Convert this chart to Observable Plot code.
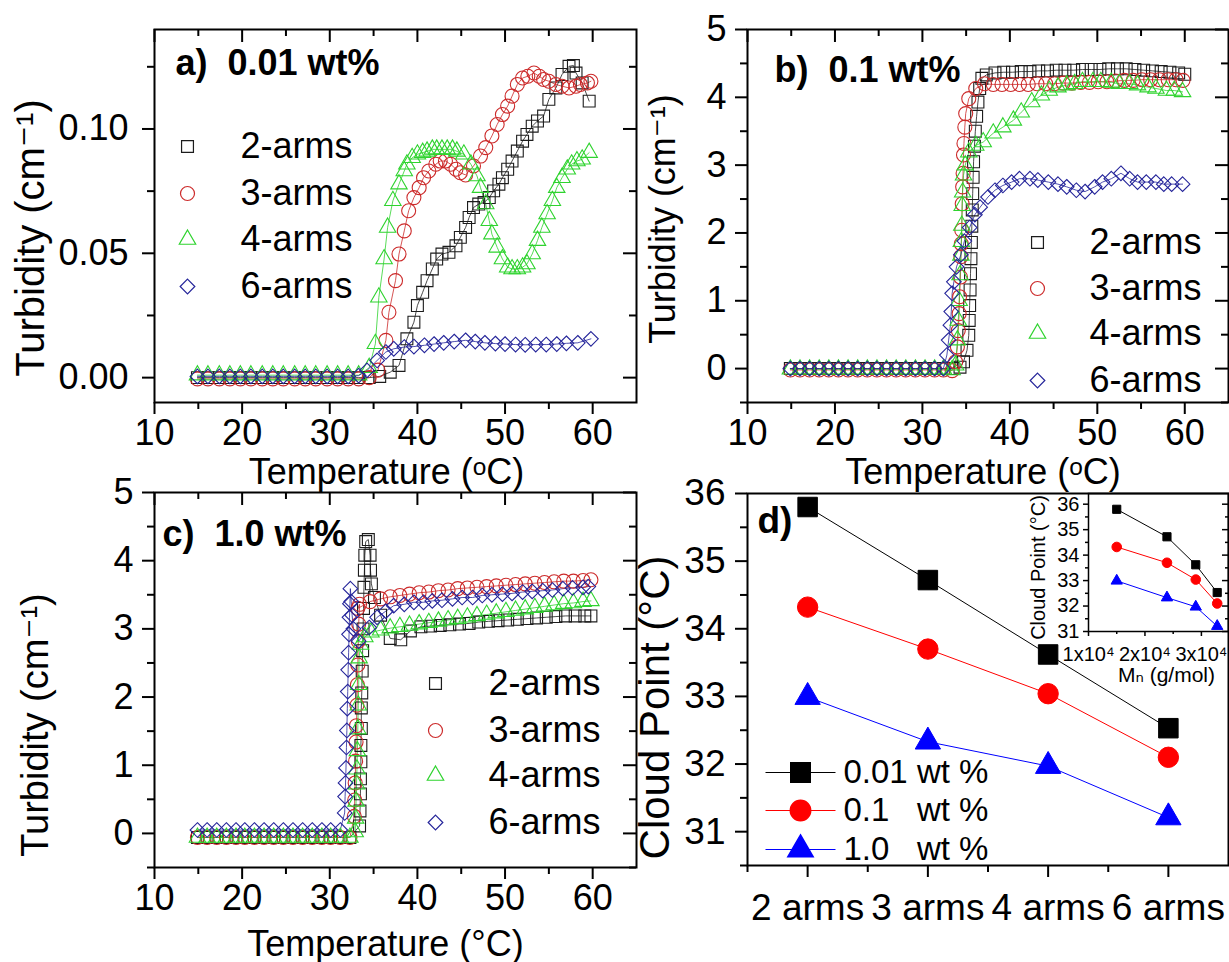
<!DOCTYPE html>
<html><head><meta charset="utf-8">
<script src="https://cdn.jsdelivr.net/npm/d3@7"></script>
<script src="https://cdn.jsdelivr.net/npm/@observablehq/plot@0.6"></script>
<style>
html,body{margin:0;padding:0;background:#fff;overflow:hidden}
#chart{position:relative;width:1229px;height:962px;background:#fff}
#chart svg{position:absolute;left:0;top:0}
</style></head><body><div id="chart"></div>
<script>
// ---------------- DATA ----------------
const seriesNames = ["2-arms", "3-arms", "4-arms", "6-arms"];
// panel a) 0.01 wt%  [T (°C), turbidity (cm-1)]
const a2 = [[14.9,0],[16.1,0],[17.4,0],[18.6,0],[19.8,0],[21.0,0],[22.3,0],[23.5,0],[24.7,0],[26.0,0],[27.2,0],[28.4,0],[29.7,0],[30.9,0],[32.1,0],[33.3,0],[34.5,0],[35.7,0.0005],[36.9,0.0022],[37.9,0.0049],[38.8,0.0156],[39.6,0.0223],[40.0,0.029],[40.6,0.0343],[41.1,0.039],[41.7,0.0437],[42.2,0.0477],[42.8,0.0497],[43.6,0.0504],[44.4,0.053],[44.9,0.0564],[45.5,0.0604],[45.9,0.0644],[46.4,0.0684],[47.0,0.0698],[47.6,0.0704],[48.2,0.0724],[48.7,0.0751],[49.3,0.0778],[49.7,0.0804],[50.3,0.0838],[50.8,0.0871],[51.4,0.0911],[52.0,0.0951],[52.5,0.0978],[53.1,0.1011],[53.7,0.1032],[54.4,0.1052],[55.0,0.1119],[55.8,0.1165],[56.5,0.1219],[57.3,0.1252],[57.8,0.1255],[58.1,0.1225],[58.8,0.1185],[59.6,0.1112]];
const a3 = [[14.9,-0.0005],[16.1,-0.0005],[17.4,-0.0005],[18.6,-0.0005],[19.8,-0.0005],[21.0,-0.0005],[22.3,-0.0005],[23.5,-0.0005],[24.7,-0.0005],[26.0,-0.0005],[27.2,-0.0005],[28.4,-0.0005],[29.7,-0.0005],[30.9,-0.0005],[32.1,-0.0005],[33.3,-0.0005],[34.5,0],[35.5,0.003],[36.4,0.015],[36.75,0.0263],[37.5,0.039],[37.9,0.0497],[38.5,0.059],[39.0,0.0671],[39.6,0.0724],[40.2,0.0764],[40.7,0.0804],[41.3,0.0831],[42.1,0.0858],[42.6,0.0871],[43.2,0.0871],[43.8,0.0858],[44.4,0.0838],[44.9,0.0824],[45.5,0.0815],[46.4,0.0851],[47.2,0.0891],[47.8,0.0925],[48.5,0.0972],[49.1,0.1018],[49.7,0.1058],[50.3,0.1092],[50.8,0.1132],[51.4,0.1179],[52.0,0.1205],[52.6,0.1212],[53.3,0.1225],[53.9,0.1212],[54.4,0.1199],[55.0,0.1192],[55.8,0.1179],[56.5,0.1172],[57.3,0.1165],[58.1,0.1172],[58.6,0.1179],[59.4,0.1185],[59.8,0.1192]];
const a4 = [[14.9,0.001],[16.1,0.001],[17.4,0.001],[18.6,0.001],[19.8,0.001],[21.0,0.001],[22.3,0.001],[23.5,0.001],[24.7,0.001],[26.0,0.001],[27.2,0.001],[28.4,0.001],[29.7,0.001],[30.9,0.001],[32.1,0.001],[33.3,0.001],[34.5,0.004],[35.2,0.0136],[35.6,0.0323],[36.2,0.0477],[36.6,0.0604],[37.2,0.0711],[37.9,0.0778],[38.5,0.0831],[38.8,0.0858],[39.4,0.0884],[40.0,0.0898],[40.6,0.0905],[41.1,0.091],[41.7,0.0918],[42.2,0.0918],[42.8,0.0918],[43.4,0.0918],[44.0,0.0918],[44.5,0.091],[45.3,0.0898],[46.1,0.0858],[46.8,0.0811],[47.2,0.0764],[47.8,0.0698],[48.2,0.0631],[48.5,0.0577],[49.1,0.0524],[49.7,0.0477],[50.3,0.0444],[50.8,0.0437],[51.4,0.0437],[52.0,0.0444],[52.5,0.0457],[53.1,0.0497],[53.7,0.0551],[54.2,0.0604],[54.8,0.0658],[55.4,0.0711],[55.9,0.0764],[56.5,0.0804],[57.1,0.0838],[57.6,0.0858],[58.2,0.0871],[58.8,0.0878],[59.6,0.0905]];
const a6 = [[14.9,0.0005],[16.1,0.0005],[17.4,0.0005],[18.6,0.0005],[19.8,0.0005],[21.0,0.0005],[22.3,0.0005],[23.5,0.0005],[24.7,0.0005],[26.0,0.0005],[27.2,0.0005],[28.4,0.0005],[29.7,0.0005],[30.9,0.0005],[32.1,0.0005],[33.3,0.0008],[34.25,0.0029],[35.4,0.0069],[36.4,0.0103],[37.3,0.0116],[38.5,0.0123],[39.6,0.0125],[40.8,0.013],[41.9,0.0135],[43.0,0.014],[44.2,0.0145],[45.5,0.015],[46.6,0.0145],[47.7,0.014],[48.9,0.0137],[50.0,0.0135],[51.2,0.0133],[52.3,0.0132],[53.5,0.0133],[54.7,0.0133],[55.9,0.0135],[57.0,0.0138],[58.3,0.014],[59.8,0.0156]];
// panel b) 0.1 wt%
const b2 = [[14.9,0],[16.0,0],[17.1,0],[18.2,0],[19.3,0],[20.4,0],[21.5,0],[22.6,0],[23.7,0],[24.8,0],[25.9,0],[27.0,0],[28.1,0],[29.2,0],[30.3,0],[31.4,0],[32.4,0],[33.5,0],[34.3,0.02],[34.7,0.1],[35.1,0.27],[35.3,0.49],[35.35,0.71],[35.4,0.93],[35.45,1.16],[35.5,1.4],[35.55,1.62],[35.6,1.86],[35.65,2.1],[35.7,2.34],[35.75,2.58],[35.8,2.82],[35.85,3.05],[35.95,3.28],[36.05,3.5],[36.2,3.72],[36.35,3.93],[36.55,4.13],[36.8,4.28],[37.3,4.33],[38.3,4.36],[39.3,4.37],[40.3,4.37],[41.3,4.38],[42.3,4.38],[43.3,4.39],[44.3,4.39],[45.3,4.4],[46.3,4.4],[47.3,4.4],[48.3,4.41],[49.3,4.41],[50.3,4.41],[51.3,4.42],[52.3,4.42],[53.3,4.42],[54.3,4.41],[55.3,4.4],[56.3,4.39],[57.3,4.38],[58.3,4.37],[59.3,4.36],[60.0,4.34]];
const b3 = [[14.9,-0.02],[16.0,-0.02],[17.1,-0.02],[18.2,-0.02],[19.3,-0.02],[20.4,-0.02],[21.5,-0.02],[22.6,-0.02],[23.7,-0.02],[24.8,-0.02],[25.9,-0.02],[27.0,-0.02],[28.1,-0.02],[29.2,-0.02],[30.3,-0.02],[31.4,-0.02],[32.4,-0.02],[33.4,-0.03],[33.8,0.1],[34.0,0.32],[34.1,0.56],[34.2,0.81],[34.25,1.06],[34.35,1.35],[34.4,1.65],[34.45,1.84],[34.5,2.04],[34.55,2.43],[34.6,2.68],[34.65,2.88],[34.7,3.15],[34.75,3.32],[34.85,3.56],[34.95,3.76],[35.3,3.98],[36.1,4.13],[37.1,4.2],[38.1,4.19],[39.1,4.19],[40.1,4.19],[41.1,4.19],[42.1,4.19],[43.1,4.2],[44.1,4.2],[45.1,4.2],[46.1,4.21],[47.1,4.21],[48.1,4.22],[49.1,4.22],[50.1,4.23],[51.1,4.23],[52.1,4.24],[53.1,4.25],[54.1,4.25],[55.1,4.26],[56.1,4.26],[57.1,4.26],[58.1,4.26],[59.0,4.26],[59.8,4.25]];
const b4 = [[14.9,-0.01],[16.0,-0.01],[17.1,-0.01],[18.2,-0.01],[19.3,-0.01],[20.4,-0.01],[21.5,-0.01],[22.6,-0.01],[23.7,-0.01],[24.8,-0.01],[25.9,-0.01],[27.0,-0.01],[28.1,-0.01],[29.2,-0.01],[30.3,-0.01],[31.4,-0.01],[32.4,-0.01],[33.4,-0.02],[33.8,0.05],[34.0,0.42],[34.1,0.71],[34.2,1.0],[34.3,1.38],[34.4,1.67],[34.45,1.87],[34.5,2.11],[34.55,2.4],[34.6,2.6],[34.7,2.85],[34.9,3.0],[35.3,3.19],[36.1,3.29],[36.95,3.34],[38.1,3.47],[39.2,3.56],[40.4,3.66],[41.3,3.78],[42.5,3.93],[43.6,4.03],[44.5,4.1],[45.5,4.15],[46.5,4.18],[47.4,4.2],[48.3,4.23],[49.5,4.23],[50.4,4.23],[51.6,4.22],[52.5,4.2],[53.7,4.2],[54.6,4.18],[55.8,4.15],[56.7,4.13],[57.9,4.1],[58.8,4.1],[59.75,4.08]];
const b6 = [[14.9,0],[16.0,0],[17.1,0],[18.2,0],[19.3,0],[20.4,0],[21.5,0],[22.6,0],[23.7,0],[24.8,0],[25.9,0],[27.0,0],[28.1,0],[29.2,0],[30.3,0],[31.4,0],[32.4,0],[32.8,0.2],[33.0,0.42],[33.2,0.64],[33.3,0.84],[33.4,1.11],[33.6,1.28],[33.9,1.5],[34.4,1.68],[34.8,1.88],[35.4,2.08],[36.0,2.27],[36.6,2.38],[37.5,2.53],[38.3,2.63],[39.2,2.7],[40.2,2.75],[41.1,2.8],[42.3,2.8],[43.2,2.78],[44.4,2.75],[45.5,2.72],[46.5,2.68],[47.6,2.63],[48.6,2.61],[49.7,2.68],[50.6,2.75],[51.6,2.8],[52.7,2.88],[53.7,2.8],[54.6,2.75],[55.6,2.75],[56.7,2.75],[57.6,2.72],[58.5,2.72],[59.75,2.72]];
// panel c) 1.0 wt%
const c2 = [[14.9,-0.06],[16.0,-0.06],[17.1,-0.06],[18.2,-0.06],[19.3,-0.06],[20.3,-0.06],[21.4,-0.06],[22.5,-0.06],[23.6,-0.06],[24.7,-0.06],[25.8,-0.06],[26.9,-0.06],[28.0,-0.06],[29.1,-0.06],[30.1,-0.06],[31.2,-0.06],[32.3,-0.06],[33.4,0.11],[33.45,0.33],[33.5,0.58],[33.5,0.8],[33.55,1.05],[33.55,1.29],[33.6,1.54],[33.6,1.84],[33.65,2.06],[33.7,2.38],[33.75,2.68],[33.8,3.0],[33.85,3.3],[33.9,3.61],[33.95,3.86],[34.0,4.08],[34.1,4.28],[34.4,4.31],[34.6,4.08],[34.65,3.86],[34.75,3.66],[35.1,3.46],[35.8,3.2],[36.9,2.86],[38.1,2.84],[39.2,2.97],[40.4,3.03],[41.5,3.04],[42.6,3.05],[43.7,3.06],[44.8,3.07],[45.9,3.08],[47.0,3.1],[48.1,3.11],[49.2,3.12],[50.3,3.13],[51.4,3.14],[52.5,3.15],[53.6,3.16],[54.7,3.17],[55.8,3.18],[56.9,3.19],[58.0,3.19],[59.1,3.19],[59.8,3.19]];
const c3 = [[14.9,-0.06],[16.0,-0.06],[17.1,-0.06],[18.2,-0.06],[19.3,-0.06],[20.3,-0.06],[21.4,-0.06],[22.5,-0.06],[23.6,-0.06],[24.7,-0.06],[25.8,-0.06],[26.9,-0.06],[28.0,-0.06],[29.1,-0.06],[30.1,-0.06],[31.2,-0.06],[32.3,-0.06],[32.8,0.25],[32.85,0.49],[32.9,0.74],[32.95,1.06],[33.0,1.34],[33.05,1.58],[33.1,1.88],[33.15,2.18],[33.2,2.47],[33.25,2.82],[33.3,3.07],[33.4,3.36],[33.2,3.3],[34.6,3.4],[35.8,3.44],[36.9,3.47],[38.0,3.49],[39.1,3.51],[40.2,3.53],[41.3,3.54],[42.4,3.56],[43.5,3.57],[44.6,3.59],[45.7,3.6],[46.8,3.61],[47.9,3.62],[49.0,3.63],[50.1,3.64],[51.2,3.65],[52.3,3.66],[53.4,3.67],[54.5,3.68],[55.6,3.69],[56.7,3.7],[57.8,3.7],[58.9,3.71],[59.8,3.72]];
const c4 = [[14.9,-0.06],[16.0,-0.06],[17.1,-0.06],[18.2,-0.06],[19.3,-0.06],[20.3,-0.06],[21.4,-0.06],[22.5,-0.06],[23.6,-0.06],[24.7,-0.06],[25.8,-0.06],[26.9,-0.06],[28.0,-0.06],[29.1,-0.06],[30.1,-0.06],[31.2,-0.06],[32.3,-0.06],[32.9,0.02],[32.95,0.22],[33.0,0.47],[33.05,0.72],[33.1,0.94],[33.15,1.21],[33.2,1.53],[33.25,1.88],[33.3,2.18],[33.35,2.57],[33.5,2.77],[34.0,2.88],[34.7,2.95],[35.8,2.98],[36.9,3.01],[38.0,3.03],[39.1,3.05],[40.2,3.07],[41.3,3.09],[42.4,3.11],[43.5,3.13],[44.6,3.15],[45.7,3.17],[46.8,3.19],[47.9,3.21],[49.0,3.23],[50.1,3.25],[51.2,3.27],[52.3,3.29],[53.4,3.31],[54.5,3.33],[55.6,3.35],[56.7,3.37],[57.8,3.38],[58.9,3.4],[59.8,3.41]];
const c6 = [[14.9,0.05],[16.0,0.05],[17.1,0.05],[18.2,0.05],[19.3,0.05],[20.3,0.05],[21.4,0.05],[22.5,0.05],[23.6,0.05],[24.7,0.05],[25.8,0.05],[26.9,0.05],[28.0,0.05],[29.1,0.05],[30.1,0.05],[31.2,0.05],[31.7,0.3],[31.75,0.54],[31.8,0.74],[31.85,0.96],[31.9,1.26],[31.95,1.51],[32.0,1.83],[32.05,2.08],[32.1,2.4],[32.15,2.65],[32.2,2.92],[32.25,3.17],[32.3,3.37],[32.35,3.59],[32.45,3.4],[32.55,3.2],[32.7,3.0],[33.3,2.82],[34.5,3.02],[35.4,3.17],[36.4,3.26],[37.3,3.34],[38.5,3.36],[39.6,3.39],[40.7,3.39],[41.7,3.41],[42.8,3.42],[44.0,3.44],[45.1,3.46],[46.3,3.46],[47.4,3.49],[48.5,3.5],[49.7,3.51],[50.8,3.52],[52.0,3.54],[53.1,3.55],[54.3,3.56],[55.4,3.57],[56.6,3.59],[57.7,3.6],[58.9,3.61],[59.5,3.62]];
// panel d) cloud points
const arms = ["2 arms", "3 arms", "4 arms", "6 arms"];
const cp001 = [35.8, 34.72, 33.62, 32.53];
const cp01 = [34.32, 33.7, 33.04, 32.1];
const cp10 = [32.99, 32.33, 31.97, 31.21];
const mnValues = [15000, 23900, 29000, 32800];
const concLabels = ["0.01 wt\u00a0%", "0.1\u00a0\u00a0\u00a0wt\u00a0%", "1.0\u00a0\u00a0\u00a0wt\u00a0%"];
// tick values
const tempMajor = [10, 20, 30, 40, 50, 60], tempMinor = [15, 25, 35, 45, 55];
const aMajor = [0, 0.05, 0.10], aMinor = [0.025, 0.075, 0.125];
const turbMajor = [0, 1, 2, 3, 4, 5], turbMinor = [-0.5, 0.5, 1.5, 2.5, 3.5, 4.5];
const cpMajor = [31, 32, 33, 34, 35, 36], cpMinor = [30.5, 31.5, 32.5, 33.5, 34.5, 35.5];
const mnMajor = [10000, 20000, 30000], mnMinor = [15000, 25000];

// ---------------- STYLE ----------------
const W = 1229, H = 962;
const FONT = '"Liberation Sans", Arial, "DejaVu Sans", sans-serif';
const colors = ["#1c1c1c", "#cc2a2a", "#2fd32f", "#25259a"];
const symbols = ["square", "circle", "triangle", "diamond2"];
const radii = [6.7, 7, 6.1, 6.6];
const FS = 36;

function toRows(arr) { return arr.map(([t, v]) => ({t, v})); }

function base(box, xd, yd, marks) {
  return Plot.plot({
    width: W, height: H,
    marginLeft: box[0], marginTop: box[1], marginRight: W - box[2], marginBottom: H - box[3],
    x: {domain: xd, label: null}, y: {domain: yd, label: null},
    style: {background: "transparent", fontFamily: FONT, color: "black", overflow: "visible"},
    marks
  });
}

function axes(box, o) {
  const fw = box[2] - box[0], fh = box[3] - box[1];
  const sw = o.sw ?? 2, maj = o.maj ?? 12, min = o.min ?? 7;
  const m = [
    Plot.axisX(o.xMaj, {anchor: "bottom", tickSize: maj, tickPadding: o.xpad, fontSize: o.fs, strokeWidth: sw, label: null, tickFormat: o.xfmt}),
    Plot.axisY(o.yMaj, {anchor: "left", tickSize: maj, tickPadding: o.ypad, fontSize: o.fs, strokeWidth: sw, label: null, tickFormat: o.yfmt}),
    Plot.axisY(o.yMin, {anchor: "left", tickSize: min, strokeWidth: sw, fill: "none", label: null}),
  ];
  if (o.xMin) m.push(Plot.axisX(o.xMin, {anchor: "bottom", tickSize: min, strokeWidth: sw, fill: "none", label: null}));
  if (o.mirrorX) m.push(
    Plot.tickX(o.xMaj, {x: d => d, insetBottom: fh - maj - 1, stroke: "black", strokeWidth: sw}),
    Plot.tickX(o.xMin, {x: d => d, insetBottom: fh - min, stroke: "black", strokeWidth: sw}));
  if (o.mirrorY) m.push(
    Plot.tickY(o.yMaj, {y: d => d, insetLeft: fw - maj - 1, stroke: "black", strokeWidth: sw}),
    Plot.tickY(o.yMin, {y: d => d, insetLeft: fw - min, stroke: "black", strokeWidth: sw}));
  return m;
}

function label(txt, o) {
  return Plot.text([txt], {text: d => d, frameAnchor: o.anchor, dx: o.dx || 0, dy: o.dy || 0,
    rotate: o.rotate || 0, fontSize: o.fs || FS, fontWeight: o.bold ? "bold" : "normal",
    textAnchor: o.textAnchor || "middle", lineAnchor: o.lineAnchor || "middle", fill: "black"});
}

function legend(names, lx, tx, ys, fs) {
  const m = [];
  names.forEach((n, i) => {
    m.push(Plot.dot([n], {frameAnchor: "top-left", dx: lx, dy: ys[i], symbol: symbols[i], r: radii[i], stroke: colors[i], fill: "none", strokeWidth: 1.2}));
    m.push(Plot.text([n], {text: d => d, frameAnchor: "top-left", dx: tx, dy: ys[i], fontSize: fs, textAnchor: "start", lineAnchor: "middle", fill: "black"}));
  });
  return m;
}

function turbidityPanel(box, yd, series, ax, extras) {
  const marks = [];
  series.forEach((s, i) => {
    marks.push(Plot.line(toRows(s), {x: "t", y: "v", stroke: colors[i], strokeWidth: 0.8}));
  });
  series.forEach((s, i) => {
    marks.push(Plot.dot(toRows(s), {x: "t", y: "v", symbol: symbols[i], r: radii[i], stroke: colors[i], fill: "none", strokeWidth: 1.1}));
  });
  marks.push(Plot.frame({stroke: "black", strokeWidth: 2}));
  marks.push(...axes(box, ax));
  marks.push(...extras);
  return base(box, [10, 65], yd, marks);
}

const chart = document.getElementById("chart");
const fmt2 = d3.format(".2f");
const fmtInt = d => String(d);

// ---- panel a
const boxA = [154, 29, 636, 402];
chart.appendChild(turbidityPanel(boxA, [-0.01, 0.14], [a2, a3, a4, a6],
  {xMaj: tempMajor, xMin: tempMinor, yMaj: aMajor, yMin: aMinor, xfmt: fmtInt, yfmt: fmt2, fs: FS, xpad: 5, ypad: 14, mirrorX: true, mirrorY: true},
  [
    label("a)\u00a0\u00a00.01 wt%", {anchor: "top-left", dx: 21, dy: 20, bold: true, textAnchor: "start", lineAnchor: "top"}),
    label("Temperature (\u1d52C)", {anchor: "bottom", dx: -9, dy: 56, lineAnchor: "top"}),
    label("Turbidity (cm\u207b\u00b9)", {anchor: "left", dx: -123, dy: 22, rotate: -90, fs: 40}),
    ...legend(seriesNames, 33, 86, [117, 164, 210, 257], FS)
  ]));

// ---- panel b
const boxB = [747, 29, 1228, 402];
chart.appendChild(turbidityPanel(boxB, [-0.5, 5], [b2, b3, b4, b6],
  {xMaj: tempMajor, xMin: tempMinor, yMaj: turbMajor, yMin: turbMinor, xfmt: fmtInt, yfmt: fmtInt, fs: FS, xpad: 5, ypad: 9, mirrorX: true, mirrorY: true},
  [
    label("b)\u00a0\u00a00.1 wt%", {anchor: "top-left", dx: 27, dy: 27, bold: true, textAnchor: "start", lineAnchor: "top"}),
    label("Temperature (\u1d52C)", {anchor: "bottom", dx: -5, dy: 56, lineAnchor: "top"}),
    label("Turbidity (cm\u207b\u00b9)", {anchor: "left", dx: -84, dy: 3, rotate: -90, fs: 36}),
    ...legend(seriesNames, 290, 342, [213, 259, 304, 351], FS)
  ]));

// ---- panel c
const boxC = [154, 492, 636, 867];
chart.appendChild(turbidityPanel(boxC, [-0.5, 5], [c2, c3, c4, c6],
  {xMaj: tempMajor, xMin: tempMinor, yMaj: turbMajor, yMin: turbMinor, xfmt: fmtInt, yfmt: fmtInt, fs: FS, xpad: 5, ypad: 9, mirrorX: true, mirrorY: true},
  [
    label("c)\u00a0\u00a01.0 wt%", {anchor: "top-left", dx: 8, dy: 28, bold: true, textAnchor: "start", lineAnchor: "top"}),
    label("Temperature (\u00b0C)", {anchor: "bottom", dx: -10, dy: 63, lineAnchor: "top"}),
    label("Turbidity (cm\u207b\u00b9)", {anchor: "left", dx: -119, dy: 45, rotate: -90, fs: 38}),
    ...legend(seriesNames, 281, 334, [191, 238, 283, 330], FS)
  ]));

// ---- panel d
const boxD = [747, 493, 1228, 865];
const dSeries = [cp001, cp01, cp10];
const dColors = ["#000000", "#ff0000", "#0000ff"];
const dSymbols = ["square", "circle", "triangle"];
const dRadii = [11, 10.2, 9.4];
const lineSym = {draw(ctx) { ctx.moveTo(-35, 0); ctx.lineTo(35, 0); }};
const dMarks = [];
dSeries.forEach((s, k) => {
  const rows = arms.map((a, i) => ({i: i + 1, v: s[i]}));
  dMarks.push(Plot.line(rows, {x: "i", y: "v", stroke: dColors[k], strokeWidth: 1}));
});
dSeries.forEach((s, k) => {
  const rows = arms.map((a, i) => ({i: i + 1, v: s[i]}));
  dMarks.push(Plot.dot(rows, {x: "i", y: "v", symbol: dSymbols[k], r: dRadii[k], fill: dColors[k], stroke: dColors[k], strokeWidth: 1}));
});
dMarks.push(Plot.frame({stroke: "black", strokeWidth: 2}));
dMarks.push(...axes(boxD, {xMaj: [1, 2, 3, 4], xMin: [0.5, 1.5, 2.5, 3.5], yMaj: cpMajor, yMin: cpMinor,
  xfmt: d => arms[d - 1], yfmt: fmtInt, fs: 37, xpad: 16, ypad: 10, mirrorX: false, mirrorY: false}));
dMarks.push(label("d)", {anchor: "top-left", dx: 10, dy: 13, bold: true, textAnchor: "start", lineAnchor: "top", fs: 37}));
dMarks.push(label("Cloud Point (\u00b0C)", {anchor: "left", dx: -92, dy: 28, rotate: -90, fs: 42}));
const legY = [279, 317, 356];
concLabels.forEach((n, k) => {
  dMarks.push(Plot.dot([n], {frameAnchor: "top-left", dx: 53, dy: legY[k], symbol: lineSym, stroke: dColors[k], fill: "none", strokeWidth: 1}));
  dMarks.push(Plot.dot([n], {frameAnchor: "top-left", dx: 53, dy: legY[k], symbol: dSymbols[k], r: dRadii[k], fill: dColors[k], stroke: dColors[k]}));
  dMarks.push(Plot.text([n], {text: d => d, frameAnchor: "top-left", dx: 96, dy: legY[k], fontSize: 33, textAnchor: "start", lineAnchor: "middle", fill: "black"}));
});
chart.appendChild(base(boxD, [0.5, 4.5], [30.5, 36], dMarks));

// ---- inset
const boxI = [1088, 493, 1228, 631];
const iMarks = [];
const iRadii = [4.6, 4.8, 4.2];
dSeries.forEach((s, k) => {
  const rows = mnValues.map((m, i) => ({m, v: s[i]}));
  iMarks.push(Plot.line(rows, {x: "m", y: "v", stroke: dColors[k], strokeWidth: 1}));
});
dSeries.forEach((s, k) => {
  const rows = mnValues.map((m, i) => ({m, v: s[i]}));
  iMarks.push(Plot.dot(rows, {x: "m", y: "v", symbol: dSymbols[k], r: iRadii[k], fill: dColors[k], stroke: dColors[k], strokeWidth: 1}));
});
iMarks.push(Plot.frame({stroke: "black", strokeWidth: 1.5}));
iMarks.push(...axes(boxI, {xMaj: mnMajor, xMin: mnMinor, yMaj: cpMajor, yMin: [31.5, 32.5, 33.5, 34.5, 35.5],
  xfmt: d => `${d / 10000}x10\u2074`, yfmt: fmtInt, fs: 20, xpad: 10, ypad: 4, maj: 5, min: 3, sw: 1.5, mirrorX: false, mirrorY: true}));
iMarks.push(label("Cloud Point (\u00b0C)", {anchor: "left", dx: -50, dy: 5, rotate: -90, fs: 20}));
iMarks.push(label("M\u2099 (g/mol)", {anchor: "bottom", dx: 8, dy: 36, lineAnchor: "top", fs: 21}));
chart.appendChild(base(boxI, [10000, 34800], [31, 36.42], iMarks));
</script></body></html>
